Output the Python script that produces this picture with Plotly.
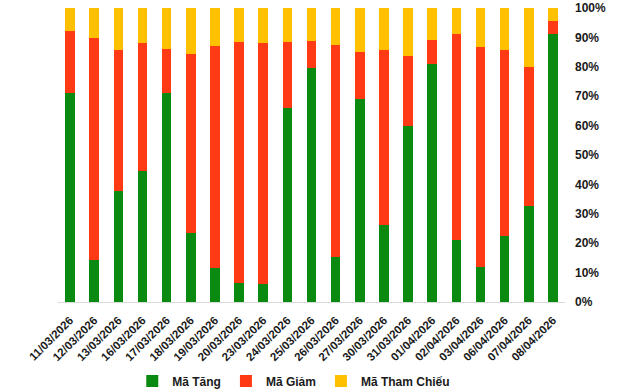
import plotly.graph_objects as go

dates = ["11/03/2026", "12/03/2026", "13/03/2026", "16/03/2026", "17/03/2026",
         "18/03/2026", "19/03/2026", "20/03/2026", "23/03/2026", "24/03/2026",
         "25/03/2026", "26/03/2026", "27/03/2026", "30/03/2026", "31/03/2026",
         "01/04/2026", "02/04/2026", "03/04/2026", "06/04/2026", "07/04/2026",
         "08/04/2026"]

ma_tang = [71.1, 14.4, 37.8, 44.6, 71.1, 23.5, 11.7, 6.5, 6.1, 66.1, 79.7,
           15.3, 69.0, 26.2, 59.9, 81.1, 21.2, 11.9, 22.6, 32.8, 91.3]
ma_giam = [21.1, 75.4, 47.9, 43.5, 15.0, 60.9, 75.4, 81.9, 82.0, 22.3, 9.1,
           72.1, 16.0, 59.5, 23.8, 8.0, 70.0, 74.8, 63.1, 47.1, 4.3]
ma_tham_chieu = [7.8, 10.2, 14.3, 11.9, 13.9, 15.6, 12.9, 11.6, 11.9, 11.6, 11.2,
                 12.6, 15.0, 14.3, 16.3, 10.9, 8.8, 13.3, 14.3, 20.1, 4.4]

y_ticks = [0, 10, 20, 30, 40, 50, 60, 70, 80, 90, 100]
y_tick_labels = [f"{v}%" for v in y_ticks]

font_family = "Liberation Sans, Arial, sans-serif"
text_color = "#1a1a1a"

fig = go.Figure()
fig.add_trace(go.Bar(name="Mã Tăng", x=dates, y=ma_tang, marker_color="#0b8a12",
                     marker_line_width=0))
fig.add_trace(go.Bar(name="Mã Giảm", x=dates, y=ma_giam, marker_color="#ff3a14",
                     marker_line_width=0))
fig.add_trace(go.Bar(name="Mã Tham Chiếu", x=dates, y=ma_tham_chieu, marker_color="#ffc000",
                     marker_line_width=0))

fig.update_layout(
    width=640, height=391,
    barmode="stack",
    bargap=0.6,
    plot_bgcolor="white",
    paper_bgcolor="white",
    margin=dict(l=58, r=75, t=8, b=89, autoexpand=False),
    font=dict(family=font_family, size=12, color=text_color, weight="bold"),
    legend=dict(orientation="h", x=0.465, xanchor="center", y=-0.269, yanchor="middle",
                font=dict(family=font_family, size=12, color=text_color, weight="bold"),
                itemwidth=30, traceorder="normal"),
    xaxis=dict(
        type="category",
        tickangle=-45,
        automargin=False,
        showline=True, linecolor="#d9d9d9", linewidth=1,
        showgrid=False, ticks="",
        ticklabelstandoff=6,
        tickfont=dict(family=font_family, size=11.5, color=text_color, weight="bold"),
    ),
    yaxis=dict(
        side="right",
        range=[0, 100],
        automargin=False,
        tickvals=y_ticks, ticktext=y_tick_labels,
        showgrid=False, showline=False, zeroline=False, ticks="",
        ticklabelstandoff=9,
        tickfont=dict(family=font_family, size=12, color=text_color, weight="bold"),
    ),
)

fig.write_html("out.html", config={"displayModeBar": False},
               post_script="document.body.style.margin='0';document.body.style.overflow='hidden';")
